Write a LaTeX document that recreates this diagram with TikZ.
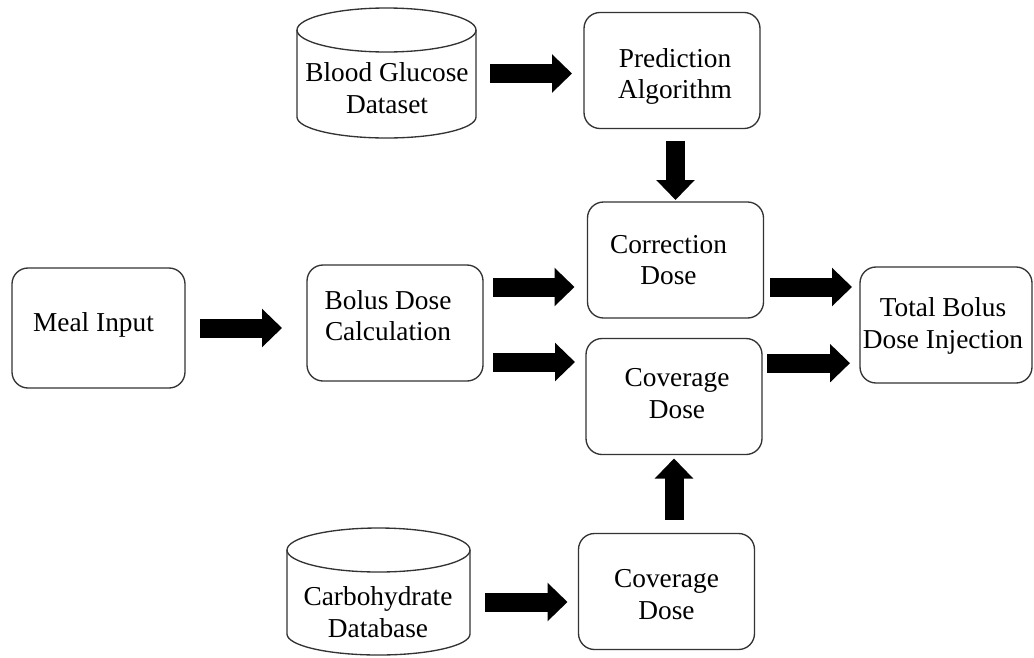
\documentclass[tikz,border=0pt]{standalone}
\usepackage{fontspec}
\setmainfont{Liberation Serif}
\usetikzlibrary{arrows.meta,calc}
\begin{document}
\begin{tikzpicture}[x=0.75pt,y=-0.75pt,
  txt/.style={align=center, inner sep=0pt, font=\fontsize{20.5}{23.5}\selectfont},
  box/.style={draw=black!80, line width=1pt, rounded corners=12pt,
    minimum width=132pt, minimum height=87pt, inner sep=0pt, outer sep=0pt},
  cylbody/.style={minimum width=#1, inner sep=0pt, outer sep=0pt},
  cylline/.style={draw=black!80, line width=1pt},
  blk/.style={line width=14.25pt, -{Triangle[length=15pt,width=28pt]}}
]
% canvas
\fill[white] (0,0) rectangle (1034,657);
\useasboundingbox (0,0) rectangle (1034,657);

% process boxes
\node[box, minimum width=129.75pt, minimum height=90pt] (meal) at (98.5,328) {};
\node[box] (bolus) at (395,323) {};
\node[box] (pred) at (672,70.5) {};
\node[box] (corr) at (675.5,260) {};
\node[box] (covm) at (674,396.5) {};
\node[box] (covb) at (666.5,591.5) {};
\node[box, minimum width=129pt] (total) at (946,325) {};

% box captions
\node[txt] (mealtext) at ([xshift=-3.75pt,yshift=2.25pt]meal.center) {Meal Input};
\node[txt] (bolustext) at ([xshift=-5.25pt,yshift=5.6pt]bolus.center) {Bolus Dose\\Calculation};
\node[txt] (predtext) at ([xshift=2.25pt,yshift=-4.5pt]pred.center) {Prediction\\Algorithm};
\node[txt] (corrtext) at ([xshift=-5.25pt]corr.center) {Correction\\Dose};
\node[txt] (covmtext) at ([xshift=2.25pt,yshift=2.25pt]covm.center) {Coverage\\Dose};
\node[txt] (covbtext) at ([yshift=-2.25pt]covb.center) {Coverage\\Dose};
\node[txt] (totaltext) at ([xshift=-2.25pt,yshift=-0.75pt]total.center) {Total Bolus\\Dose Injection};

% data stores (cylinders)
\node[cylbody=134.25pt, minimum height=65.25pt] (bg) at (386.5,73.5) {};
\draw[cylline] (bg.north west) -- (bg.south west)
  arc[start angle=180,end angle=360,x radius=67.125pt,y radius=15.75pt] -- (bg.north east);
\draw[cylline] (bg.north) ellipse[x radius=67.125pt,y radius=16.5pt];
\node[txt] (bgtext) at (387,88) {Blood Glucose\\Dataset};

\node[cylbody=137.25pt, minimum height=63pt] (carb) at (378.5,592) {};
\draw[cylline] (carb.north west) -- (carb.south west)
  arc[start angle=180,end angle=360,x radius=68.625pt,y radius=15.75pt] -- (carb.north east);
\draw[cylline] (carb.north) ellipse[x radius=68.625pt,y radius=16.5pt];
\node[txt] (carbtext) at (378,612) {Carbohydrate\\Database};

% block arrows
\draw[blk, shorten <=10.5pt, shorten >=9pt] (bg.east) -- (bg.east -| pred.west);
\draw[blk, shorten <=9pt, shorten >=1.5pt] (corr.north |- pred.south) -- (corr.north);
\draw[blk, shorten <=11.25pt, shorten >=18.75pt] (meal.east) -- (meal.east -| bolus.west);
\draw[blk, shorten <=7.5pt, shorten >=9.75pt] ([yshift=27pt]bolus.east) -- ([yshift=27pt]bolus.east -| corr.west);
\draw[blk, shorten <=7.5pt, shorten >=8.25pt] ([yshift=-29.25pt]bolus.east) -- ([yshift=-29.25pt]bolus.east -| covm.west);
\draw[blk, shorten <=4.5pt, shorten >=6pt] ([yshift=-20.25pt]corr.east) -- ([yshift=-20.25pt]corr.east -| total.west);
\draw[blk, shorten <=3.75pt, shorten >=7.5pt] ([yshift=25pt]covm.east) -- ([yshift=25pt]covm.east -| total.west);
\draw[blk, shorten <=10.5pt, shorten >=3pt] (covm.south |- covb.north) -- (covm.south);
\draw[blk, shorten <=11.25pt, shorten >=8.25pt] ([yshift=-7.5pt]carb.east) -- ([yshift=-7.5pt]carb.east -| covb.west);
\end{tikzpicture}
\end{document}
